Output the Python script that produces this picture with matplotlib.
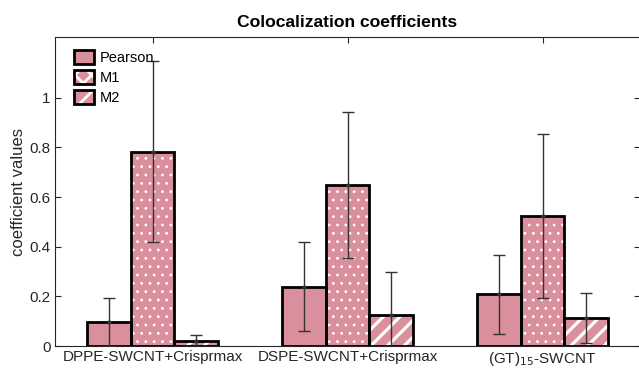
import matplotlib
matplotlib.use("Agg")
import matplotlib.pyplot as plt
import numpy as np
from matplotlib.patches import Patch
from matplotlib.legend_handler import HandlerTuple

plt.rcParams['font.family'] = ['Liberation Sans', 'DejaVu Sans']

categories = ["DPPE-SWCNT+Crisprmax", "DSPE-SWCNT+Crisprmax", "(GT)$_{15}$-SWCNT"]
series = ["Pearson", "M1", "M2"]
pearson = [0.097, 0.239, 0.208]
pearson_err = [0.095, 0.180, 0.160]
m1 = [0.783, 0.649, 0.524]
m1_err = [0.365, 0.293, 0.331]
m2 = [0.021, 0.126, 0.112]
m2_err = [0.025, 0.171, 0.101]

values = [pearson, m1, m2]
errors = [pearson_err, m1_err, m2_err]
hatches = [None, '..', '//']
hatch_lw = [1.0, 0.8, 2.3]
legend_hatches = [None, 'xx', '//']

pink = '#DA8F9C'
plt.rcParams['hatch.color'] = 'white'


def set_hlw(p, lw):
    try:
        p.set_hatch_linewidth(lw)
    except Exception:
        p._hatch_linewidth = lw


fig = plt.figure(figsize=(6.39, 3.69), dpi=100)
ax = fig.add_axes([0.0861, 0.0623, 0.9155, 0.8374])

x = np.arange(1, len(categories) + 1)
w = 0.2226
for i, (vals, errs, h) in enumerate(zip(values, errors, hatches)):
    pos = x + (i - 1) * w
    plt.rcParams['hatch.linewidth'] = hatch_lw[i]
    bars = ax.bar(pos, vals, width=w, color=pink, edgecolor='white', hatch=h, linewidth=0, zorder=2)
    for b in bars:
        set_hlw(b, hatch_lw[i])
    ax.bar(pos, vals, width=w, fill=False, edgecolor='black', linewidth=2, zorder=3)
    ax.errorbar(pos, vals, yerr=errs, fmt='.', color='#333333', ecolor='#333333',
                elinewidth=1, capsize=4.3, capthick=1, markersize=4, zorder=4)

ax.set_xlim(0.5, 3.5)
ax.set_ylim(0, 1.245)
ax.set_xticks(x)
ax.set_xticklabels(categories, fontsize=11)
ax.set_yticks([0, 0.2, 0.4, 0.6, 0.8, 1.0])
ax.set_yticklabels(['0', '0.2', '0.4', '0.6', '0.8', '1'], fontsize=11)
ax.tick_params(direction='in', top=True, right=True, length=4, color='#262626', labelcolor='#262626', pad=3)
for s in ax.spines.values():
    s.set_color('#262626')
    s.set_linewidth(0.8)
ax.set_ylabel('coefficient values', fontsize=12, color='#262626', labelpad=3)
ax.set_title('Colocalization coefficients', fontsize=12.6, fontweight='bold', pad=7)

handles = []
for i, lh in enumerate(legend_hatches):
    fillp = Patch(facecolor=pink, edgecolor='white', hatch=lh, linewidth=0)
    set_hlw(fillp, 2.0 if lh else 1.0)
    edgep = Patch(fill=False, edgecolor='black', linewidth=2)
    handles.append((fillp, edgep))
plt.rcParams['hatch.linewidth'] = 2.0
leg = ax.legend(handles, series, loc='upper left', frameon=False, fontsize=10.5,
                handler_map={tuple: HandlerTuple(ndivide=1, pad=0)},
                handlelength=1.4, handleheight=1.1, handletextpad=0.35, labelspacing=0.35,
                bbox_to_anchor=(0.01, 1.0))
fig.savefig('out.png', dpi=100)
